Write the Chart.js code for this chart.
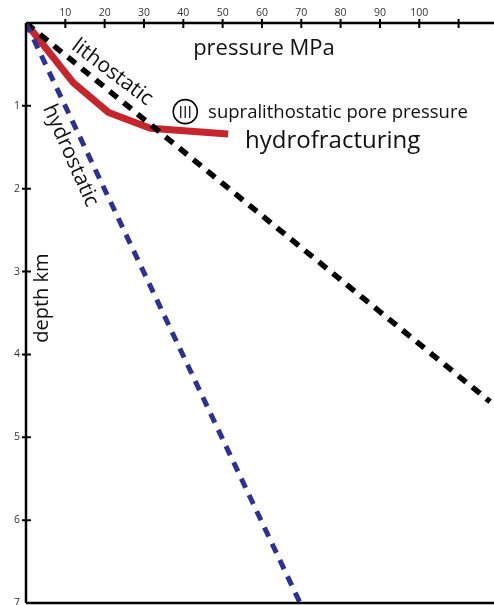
<!DOCTYPE html>
<html>
<head>
<meta charset="utf-8">
<script src="https://cdn.jsdelivr.net/npm/chart.js@4"></script>
<style>
  html, body { margin: 0; padding: 0; background: #fff; }
  #wrap { width: 494px; height: 605px; }
</style>
</head>
<body>
<div id="wrap"><canvas id="myChart" width="494" height="605"></canvas></div>
<script>
// pressure (MPa) vs depth (km)
var lithoP = [0, 118];
var lithoD = [0, 4.57];
var hydroP = [0, 69.7];
var hydroD = [0, 7];
var poreP = [0, 12, 21, 31.6, 51.4];
var poreD = [0, 0.72, 1.08, 1.27, 1.34];
var xTicks = [10, 20, 30, 40, 50, 60, 70, 80, 90, 100];
var yTicks = [1, 2, 3, 4, 5, 6, 7];

function pts(xs, ys) {
  let out = [];
  for (let i = 0; i < xs.length; i++) out.push({x: xs[i], y: ys[i]});
  return out;
}

const FONT = '"Open Sans", "Liberation Sans", sans-serif';

// axis lines, crossing ticks and the text on the plot
const deco = {
  id: 'deco',
  afterDatasetsDraw(chart) {
    const c = chart.ctx, a = chart.chartArea;
    const xs = chart.scales.x, ys = chart.scales.y;
    c.save();
    c.strokeStyle = '#000';
    c.lineWidth = 2.5;
    c.beginPath();
    c.moveTo(a.left, a.top); c.lineTo(a.right, a.top);
    c.moveTo(a.left, a.top); c.lineTo(a.left, a.bottom);
    c.moveTo(a.left, a.bottom); c.lineTo(a.right, a.bottom);
    c.stroke();
    c.lineWidth = 2;
    c.beginPath();
    xs.ticks.forEach(t => {
      if (t.value > 0 && t.value % 10 === 0) {
        let px = xs.getPixelForValue(t.value);
        c.moveTo(px, a.top - 4); c.lineTo(px, a.top + 5);
      }
    });
    yTicks.forEach(v => {
      if (v >= 7) return;
      let py = ys.getPixelForValue(v);
      c.moveTo(a.left - 4, py); c.lineTo(a.left + 5, py);
    });
    c.stroke();

    c.fillStyle = '#111';
    c.textBaseline = 'alphabetic';
    c.font = '22px ' + FONT;
    c.fillText('pressure MPa', xs.getPixelForValue(42.5), ys.getPixelForValue(0.386));

    c.save();
    c.translate(xs.getPixelForValue(5.6), ys.getPixelForValue(3.32));
    c.rotate(-Math.PI / 2);
    c.textAlign = 'center';
    c.font = '20px ' + FONT;
    c.fillText('depth km', 0, 0);
    c.restore();

    c.save();
    c.translate(xs.getPixelForValue(21), ys.getPixelForValue(0.654));
    c.rotate(37 * Math.PI / 180);
    c.textAlign = 'center';
    c.font = '21px ' + FONT;
    c.fillText('lithostatic', 0, 0);
    c.restore();

    c.save();
    c.translate(xs.getPixelForValue(9.9), ys.getPixelForValue(1.63));
    c.rotate(66 * Math.PI / 180);
    c.textAlign = 'center';
    c.font = '21px ' + FONT;
    c.fillText('hydrostatic', 0, 0);
    c.restore();

    // roman numeral in circle
    let cx = xs.getPixelForValue(40.5), cy = ys.getPixelForValue(1.07);
    c.lineWidth = 1.6;
    c.beginPath();
    c.arc(cx, cy, 12, 0, Math.PI * 2);
    c.stroke();
    c.textAlign = 'center';
    c.font = '16px ' + FONT;
    c.fillText('III', cx, cy + 6);

    c.textAlign = 'left';
    c.font = '18.5px ' + FONT;
    c.fillText('supralithostatic pore pressure', xs.getPixelForValue(46.3), ys.getPixelForValue(1.15));
    c.font = '24px ' + FONT;
    c.fillText('hydrofracturing', xs.getPixelForValue(55.7), ys.getPixelForValue(1.51));
    c.restore();
  }
};

new Chart(document.getElementById('myChart'), {
  type: 'line',
  data: {
    datasets: [
      {
        label: 'hydrostatic',
        data: pts(hydroP, hydroD),
        borderColor: '#2e3192',
        borderWidth: 5,
        borderDash: [10, 8],
        borderCapStyle: 'butt',
        pointRadius: 0,
        fill: false
      },
      {
        label: 'lithostatic',
        data: pts(lithoP, lithoD),
        borderColor: '#000',
        borderWidth: 5.5,
        borderDash: [10, 8],
        borderCapStyle: 'butt',
        pointRadius: 0,
        fill: false
      },
      {
        label: 'supralithostatic pore pressure',
        data: pts(poreP, poreD),
        borderColor: '#c5252c',
        borderWidth: 7,
        borderCapStyle: 'butt',
        borderJoinStyle: 'round',
        pointRadius: 0,
        tension: 0,
        fill: false
      }
    ]
  },
  options: {
    responsive: false,
    animation: false,
    layout: { padding: { left: 0, right: 0, top: 0, bottom: 2 } },
    plugins: { legend: { display: false }, tooltip: { enabled: false } },
    scales: {
      x: {
        type: 'linear',
        position: 'top',
        min: 0,
        max: 119,
        afterFit: s => { s.height = 23; s.paddingLeft = 0; s.paddingRight = 0; },
        grid: { display: false, drawTicks: false },
        border: { display: false },
        ticks: {
          stepSize: 10,
          padding: 4,
          color: '#333',
          font: { size: 10.5, family: FONT },
          maxRotation: 0,
          callback: v => xTicks.includes(v) ? String(v) : ''
        }
      },
      y: {
        type: 'linear',
        reverse: true,
        min: 0,
        max: 7,
        afterFit: s => { s.width = 26; s.paddingTop = 0; s.paddingBottom = 0; },
        grid: { display: false, drawTicks: false },
        border: { display: false },
        ticks: {
          stepSize: 1,
          padding: 6,
          color: '#333',
          font: { size: 10.5, family: FONT },
          callback: v => yTicks.includes(v) ? String(v) : ''
        }
      }
    }
  },
  plugins: [deco]
});
</script>
</body>
</html>
